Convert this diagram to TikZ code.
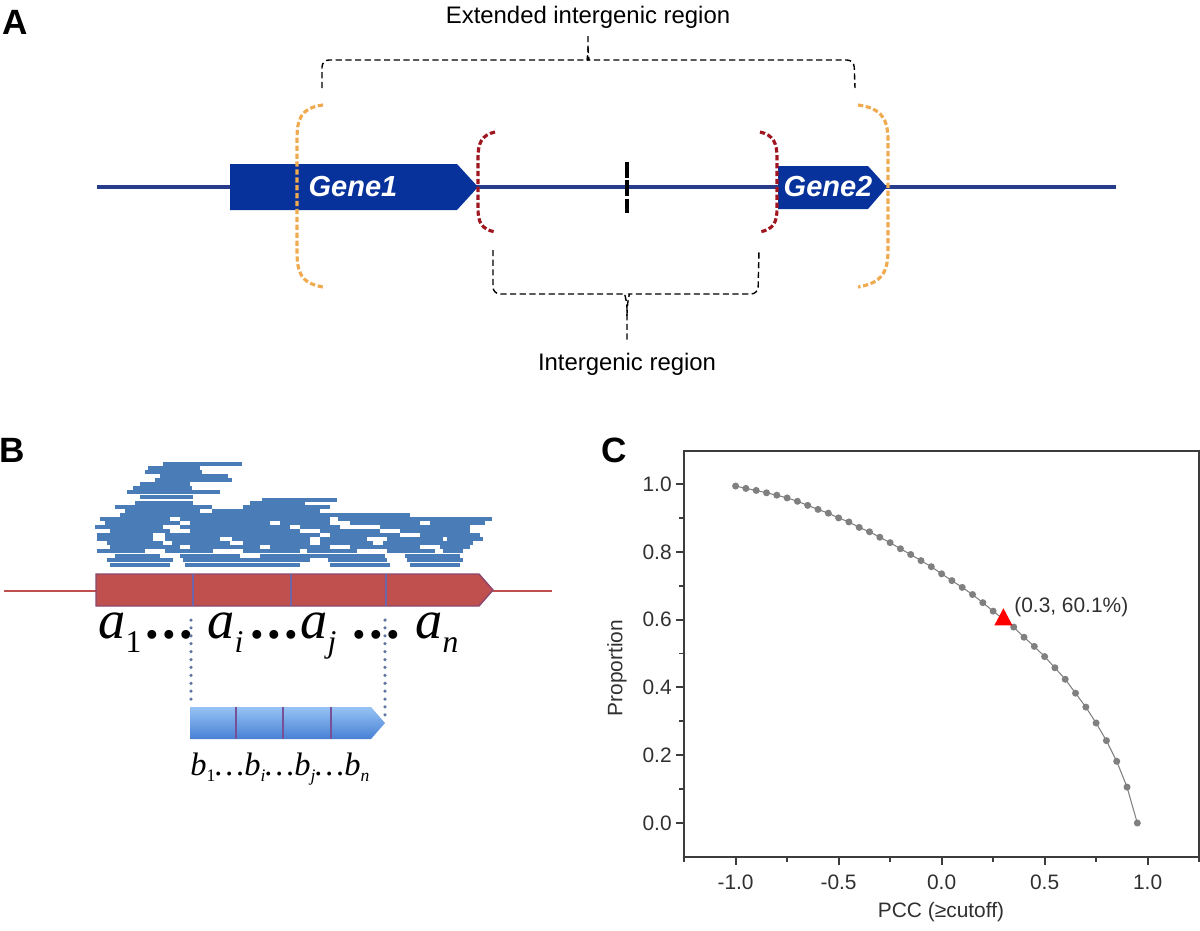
\documentclass[tikz,border=0pt]{standalone}
\usepackage{fontspec}
\setmainfont{Liberation Sans}
\newfontfamily\timesfont{Liberation Serif}
\usetikzlibrary{positioning}
\usetikzlibrary{calc}
\definecolor{geneblue}{RGB}{8,50,155}
\definecolor{axisblue}{RGB}{40,60,140}
\definecolor{orangeb}{RGB}{240,170,80}
\definecolor{redb}{RGB}{160,22,32}
\definecolor{readblue}{RGB}{74,124,184}
\definecolor{exonred}{RGB}{192,80,77}
\definecolor{exonedge}{RGB}{140,70,110}
\definecolor{divider}{RGB}{110,100,170}
\definecolor{subdivider}{RGB}{120,80,150}
\definecolor{subtop}{RGB}{150,195,245}
\definecolor{subbot}{RGB}{72,128,212}
\definecolor{dotline}{RGB}{95,115,160}
\definecolor{plotgray}{RGB}{128,128,128}
\definecolor{framegray}{RGB}{60,60,60}

% subscripts and dots for the segment labels
\newcommand{\asub}[1]{\raisebox{-8pt}{\fontsize{18}{18}\selectfont #1}}
\newcommand{\bsub}[1]{\raisebox{-3.5pt}{\fontsize{10}{10}\selectfont #1}}
\newcommand{\adots}{{\upshape\bfseries .\kern2pt.\kern2pt.}}

\begin{document}
\begin{tikzpicture}[x=0.02cm, y=-0.02cm,
  panel/.style={font=\fontsize{20}{24}\selectfont\bfseries, inner sep=0pt},
  caption/.style={font=\fontsize{13.6}{16}\selectfont, inner sep=0pt},
  genelabel/.style={font=\fontsize{16.5}{18}\selectfont\bfseries\itshape, text=white, inner sep=0pt},
  brace/.style={black, line width=0.8pt, dash pattern=on 3.5pt off 2pt, rounded corners=4pt},
  orangebracket/.style={orangeb, line width=1.8pt, dash pattern=on 3pt off 1.5pt},
  redbracket/.style={redb, line width=1.8pt, dash pattern=on 3pt off 1.5pt},
  readbar/.style={readblue, line width=1.8pt},
  alabel/.style={font=\fontsize{31}{31}\selectfont\timesfont\itshape, anchor=base west, inner sep=0pt},
  blabel/.style={font=\fontsize{18.5}{18.5}\selectfont\timesfont\itshape, anchor=base west, inner sep=0pt},
  dotted line/.style={dotline, line width=2pt, dash pattern=on 0pt off 4.5pt, line cap=round},
  ticklabel/.style={font=\fontsize{11.9}{14}\selectfont, text=framegray!80!black, inner sep=0pt},
  frame/.style={framegray, line width=1.1pt}]

\useasboundingbox (0,0) rectangle (1200,930);

%---------------------------------------
% Panel A: gene pair
%---------------------------------------
\node[panel] (labA) at (15,22) {A};

% chromosome line and genes
\draw[axisblue, line width=2.2pt] (97,187) -- (1116,187);
\fill[geneblue] (230,164) -- (457,164) -- (478,187) -- (457,210) -- (230,210) -- cycle;
\fill[geneblue] (778,166) -- (868,166) -- (887,187) -- (868,209) -- (778,209) -- cycle;
\node[genelabel] (gene1) at (353,187) {Gene1};
\node[genelabel] (gene2) at (828,187) {Gene2};

% midpoint mark
\draw[black, line width=2pt, dash pattern=on 9pt off 1.5pt] (627,162) -- (627,213);

% extended region (orange)
\draw[orangebracket] (323,105) .. controls (300,108) and (297,120) .. (297,140)
  -- (297,250) .. controls (297,272) and (300,283) .. (323,287);
\draw[orangebracket] (858,105) .. controls (882,108) and (888,120) .. (888,140)
  -- (888,250) .. controls (888,272) and (882,283) .. (858,287);

% intergenic region (red)
\draw[redbracket] (495,132) .. controls (481,135) and (478,144) .. (478,158)
  -- (478,208) .. controls (478,222) and (481,229) .. (495,232);
\draw[redbracket] (760,132) .. controls (774,135) and (777,144) .. (777,158)
  -- (777,208) .. controls (777,222) and (774,229) .. (760,232);

% braces
\draw[brace] (322,88) -- (322,60) -- (581,60) .. controls (586,60) and (588,55) .. (588,47) -- (588,34);
\draw[brace] (588,47) .. controls (588,55) and (590,60) .. (595,60) -- (854,60) -- (855,88);
\draw[brace] (493,250) -- (493,294) -- (618,294) .. controls (624,294) and (627,300) .. (627,316) -- (627,340);
\draw[brace] (627,316) .. controls (627,300) and (630,294) .. (636,294) -- (758,294) -- (759,250);

\node[caption] (extlab) at (588,17) {Extended intergenic region};
\node[caption] (intlab) at (627,364) {Intergenic region};

%---------------------------------------
% Panel B: reads on exons
%---------------------------------------
\node[panel] (labB) at (12,450) {B};

% reads
\foreach \y/\a/\b in {464/163/212, 464/190/242, 468/148/200, 472/145/202, 476/160/228,
  480/155/232, 484/140/190, 488/133/192, 492/127/220, 497/140/193, 500/262/337,
  503/135/193, 503/250/305, 507/115/212, 507/243/297, 507/265/330,
  511/125/200, 511/212/290, 511/248/320, 515/120/225, 515/200/330, 515/325/410,
  519/100/170, 519/180/250, 519/250/330, 519/338/420, 519/400/492,
  523/105/180, 523/190/270, 523/280/330, 523/350/420, 523/430/485,
  527/95/163, 527/180/290, 527/300/340, 527/380/450, 527/440/470,
  531/110/170, 531/190/300, 531/320/380, 531/400/470,
  535/97/153, 535/165/250, 535/250/320, 535/330/400, 535/420/480,
  539/97/153, 539/165/220, 539/232/310, 539/320/367, 539/387/443, 539/447/483,
  543/107/163, 543/172/230, 543/243/310, 543/320/373, 543/383/473,
  547/110/180, 547/190/260, 547/270/330, 547/350/420, 547/440/470,
  551/97/145, 551/165/213, 551/243/300, 551/307/357, 551/387/435, 551/443/463,
  556/115/160, 556/180/240, 556/260/330, 556/330/385, 556/405/460,
  560/107/173, 560/183/310, 560/328/387, 560/407/463,
  565/110/170, 565/185/300, 565/330/390, 565/410/460}
  \draw[readbar] (\a,\y) -- (\b,\y);

% transcript with exons
\draw[exonred, line width=1.6pt] (4,591) -- (552,591);
\filldraw[fill=exonred, draw=exonedge, line width=0.8pt]
  (96,574) -- (479,574) -- (493,590) -- (479,606) -- (96,606) -- cycle;
\foreach \x in {193,291,386}
  \draw[divider, line width=1.3pt] (\x,574) -- (\x,606);

\node[alabel] (a1) at (98,638) {a\asub{\upshape 1}};
\node[alabel] (d1) at (145,638) {\adots};
\node[alabel] (ai) at (207,638) {a\asub{i}};
\node[alabel] (d2) at (250,638) {\adots};
\node[alabel] (aj) at (300,638) {a\asub{j}};
\node[alabel] (d3) at (352,638) {\adots};
\node[alabel] (an) at (415,638) {a\asub{n}};

% sub-transcript
\shade[top color=subtop, bottom color=subbot, draw=none]
  (190,707) -- (371,707) -- (385,723) -- (371,739) -- (190,739) -- cycle;
\foreach \x in {236,283,331}
  \draw[subdivider, line width=1.3pt] (\x,707) -- (\x,739);

\coordinate (top1) at (191,620);
\coordinate (bot1) at (191,700);
\coordinate (top2) at (385,620);
\coordinate (bot2) at (385,722);
\draw[dotted line] (top1) -- (bot1);
\draw[dotted line] (top2) -- (bot2);

\node[blabel] (brow) at (190,775) {b\bsub{\upshape 1}…b\bsub{i}…b\bsub{j}…b\bsub{n}};

%---------------------------------------
% Panel C: proportion curve
%---------------------------------------
\pgfmathdeclarefunction{px}{1}{\pgfmathparse{941.6+206*#1}}
\pgfmathdeclarefunction{py}{1}{\pgfmathparse{823-339*#1}}

\node[panel] (labC) at (614,450) {C};

% frame
\draw[frame] ({px(-1.25)},{py(-0.1)}) rectangle ({px(1.25)},{py(1.097)});

% y ticks
\foreach \t/\lab in {0/0.0, 0.2/0.2, 0.4/0.4, 0.6/0.6, 0.8/0.8, 1/1.0} {
  \draw[frame] ({px(-1.25)},{py(\t)}) -- ++(-8,0);
  \node[ticklabel, anchor=east] at (672,{py(\t)}) {\lab};
}
\foreach \t in {0.1,0.3,0.5,0.7,0.9}
  \draw[frame] ({px(-1.25)},{py(\t)}) -- ++(-5,0);

% x ticks
\foreach \t/\lab in {-1/-1.0, -0.5/-0.5, 0/0.0, 0.5/0.5, 1/1.0} {
  \draw[frame] ({px(\t)},{py(-0.1)}) -- ++(0,8);
  \node[ticklabel] at ({px(\t)},882) {\lab};
}
\foreach \t in {-1.25,-0.75,-0.25,0.25,0.75,1.25}
  \draw[frame] ({px(\t)},{py(-0.1)}) -- ++(0,5);

\node[ticklabel, rotate=90] (ylab) at (617,668) {Proportion};
\node[ticklabel] (xlab) at (941,912) {PCC (≥cutoff)};

% data
\draw[plotgray, line width=0.6pt] plot coordinates {
  ({px(-1.00)},{py(0.994)}) ({px(-0.95)},{py(0.987)}) ({px(-0.90)},{py(0.981)})
  ({px(-0.85)},{py(0.974)}) ({px(-0.80)},{py(0.967)}) ({px(-0.75)},{py(0.959)})
  ({px(-0.70)},{py(0.949)}) ({px(-0.65)},{py(0.937)}) ({px(-0.60)},{py(0.925)})
  ({px(-0.55)},{py(0.914)}) ({px(-0.50)},{py(0.900)}) ({px(-0.45)},{py(0.888)})
  ({px(-0.40)},{py(0.872)}) ({px(-0.35)},{py(0.859)}) ({px(-0.30)},{py(0.843)})
  ({px(-0.25)},{py(0.827)}) ({px(-0.20)},{py(0.809)}) ({px(-0.15)},{py(0.792)})
  ({px(-0.10)},{py(0.774)}) ({px(-0.05)},{py(0.756)}) ({px(0.00)},{py(0.735)})
  ({px(0.05)},{py(0.715)}) ({px(0.10)},{py(0.695)}) ({px(0.15)},{py(0.674)})
  ({px(0.20)},{py(0.650)}) ({px(0.25)},{py(0.625)}) ({px(0.30)},{py(0.601)})
  ({px(0.35)},{py(0.578)}) ({px(0.40)},{py(0.548)}) ({px(0.45)},{py(0.521)})
  ({px(0.50)},{py(0.491)}) ({px(0.55)},{py(0.458)}) ({px(0.60)},{py(0.424)})
  ({px(0.65)},{py(0.383)}) ({px(0.70)},{py(0.342)}) ({px(0.75)},{py(0.295)})
  ({px(0.80)},{py(0.243)}) ({px(0.85)},{py(0.182)}) ({px(0.90)},{py(0.106)})
  ({px(0.95)},{py(0.000)})};
\foreach \i/\v in {0/0.994, 1/0.987, 2/0.981, 3/0.974, 4/0.967, 5/0.959, 6/0.949,
  7/0.937, 8/0.925, 9/0.914, 10/0.900, 11/0.888, 12/0.872, 13/0.859, 14/0.843,
  15/0.827, 16/0.809, 17/0.792, 18/0.774, 19/0.756, 20/0.735, 21/0.715, 22/0.695,
  23/0.674, 24/0.650, 25/0.625, 27/0.578, 28/0.548, 29/0.521, 30/0.491,
  31/0.458, 32/0.424, 33/0.383, 34/0.342, 35/0.295, 36/0.243, 37/0.182, 38/0.106, 39/0.000}
  \fill[plotgray] ({px(-1+0.05*\i)},{py(\v)}) circle (2pt);

% cutoff point
\coordinate (cut) at ({px(0.3)},{py(0.601)});
\fill[red] ($(cut)+(0,-11)$) -- ($(cut)+(-9,6)$) -- ($(cut)+(9,6)$) -- cycle;
\node[ticklabel, anchor=west] (cutlab) at (1014,607) {(0.3, 60.1\%)};

\end{tikzpicture}
\end{document}
